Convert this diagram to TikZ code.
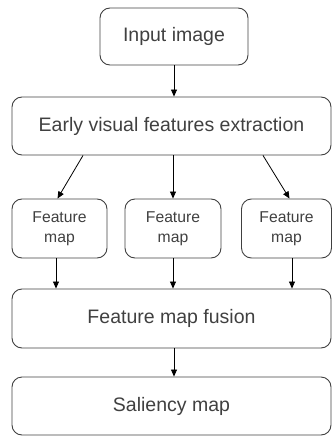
\documentclass[tikz,border=0pt]{standalone}
\usepackage{fontspec}
\setmainfont{Liberation Sans}
\usetikzlibrary{arrows.meta,positioning}
\begin{document}
\begin{tikzpicture}[>={Triangle[length=7pt,width=6pt]}, x=1pt, y=1pt,
        box/.style={draw=black!75, rounded corners=10pt, line width=0.9pt, text=black!75, inner sep=0pt, font=\fontsize{19.5}{22}\selectfont},
        fmbox/.style={box, text width=80pt, align=center, font=\fontsize{15.7}{20}\selectfont},
        arr/.style={->, line width=0.8pt}]
        \useasboundingbox (0,0) rectangle (332,-436);
        \node[box, minimum width=148pt, minimum height=57pt] (input) at (174,-36.5) {Input image};
        \node[box, minimum width=319pt, minimum height=58pt] (early) at (171.5,-126) {Early visual features extraction};
        \node[fmbox, minimum width=95pt, minimum height=59pt] (fm1) at (59.5,-228.5) {Feature\\map};
        \node[fmbox, minimum width=96pt, minimum height=59pt] (fm2) at (173,-228.5) {Feature\\map};
        \node[fmbox, minimum width=90pt, minimum height=59pt] (fm3) at (286.5,-228.5) {Feature\\map};
        \node[box, minimum width=319pt, minimum height=59pt] (fusion) at (171.5,-318.5) {Feature map fusion};
        \node[box, minimum width=319pt, minimum height=58pt] (saliency) at (171.5,-406) {Saliency map};
        \draw[arr] (input.south) -- (input.south |- early.north);
        \draw[arr] ([xshift=-88.5pt]early.south) -- ([xshift=-2pt]fm1.north);
        \draw[arr] (fm2.north |- early.south) -- (fm2.north);
        \draw[arr] ([xshift=91.5pt]early.south) -- ([xshift=3pt]fm3.north);
        \foreach \f/\dx in {fm1/-3.5, fm2/0, fm3/5.5}
            \draw[arr] ([xshift=\dx pt]\f.south) -- ([xshift=\dx pt]\f.south |- fusion.north);
        \draw[arr] (fusion.south -| input.south) -- (input.south |- saliency.north);
\end{tikzpicture}
\end{document}
